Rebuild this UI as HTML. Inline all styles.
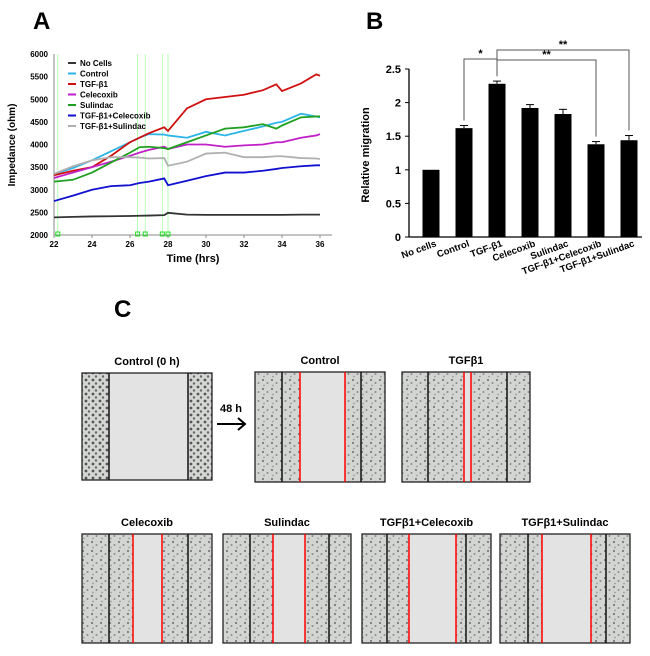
<!DOCTYPE html>
<html><head><meta charset="utf-8">
<style>
body{margin:0;background:#fff;width:650px;height:651px;overflow:hidden;font-family:"Liberation Sans",Arial,sans-serif;}
svg text{font-family:"Liberation Sans",Arial,sans-serif;}
</style></head>
<body>
<svg id="fig" width="650" height="651" viewBox="0 0 650 651" xmlns="http://www.w3.org/2000/svg">
<defs>
<pattern id="cells" width="9" height="9" patternUnits="userSpaceOnUse">
<rect width="9" height="9" fill="#d3d5d3"/>
<circle cx="2" cy="2" r="1.1" fill="#7a7c7a"/>
<circle cx="6.5" cy="5" r="1" fill="#8a8c8a"/>
<circle cx="3" cy="7.5" r="0.9" fill="#9a9c9a"/>
</pattern>
<pattern id="cells0" width="7" height="7" patternUnits="userSpaceOnUse">
<rect width="7" height="7" fill="#d4d6d4"/>
<circle cx="2" cy="2" r="1.4" fill="#555"/>
<circle cx="5" cy="5.5" r="1.2" fill="#666"/>
</pattern>
</defs>
<text x="33" y="29" font-size="24" font-weight="bold">A</text>
<text x="366" y="29" font-size="24" font-weight="bold">B</text>
<text x="114" y="317" font-size="24" font-weight="bold">C</text>
<g id="chartA"></g>
<g id="chartB"></g>
<g id="panelC"></g>
</svg>
<script>
const NS='http://www.w3.org/2000/svg';
function mk(parent,tag,attrs,txt){const e=document.createElementNS(NS,tag);for(const k in attrs)e.setAttribute(k,attrs[k]);if(txt!==undefined)e.textContent=txt;parent.appendChild(e);return e;}

// ---------- Panel A data ----------
const timesA=[22,23,24,25,26,26.5,27,27.8,28,29,30,31,32,33,33.7,34,35,35.8,36];
const seriesNames=["No Cells","Control","TGF-β1","Celecoxib","Sulindac","TGF-β1+Celecoxib","TGF-β1+Sulindac"];
const noCells=[2390,2400,2410,2415,2420,2425,2430,2440,2490,2450,2445,2445,2445,2445,2445,2445,2450,2450,2450];
const controlA=[3350,3480,3650,3850,4050,4150,4230,4220,4200,4150,4280,4200,4300,4400,4480,4500,4680,4620,4600];
const tgfA=[3320,3420,3500,3750,4050,4150,4250,4380,4300,4800,5000,5050,5100,5200,5330,5180,5350,5550,5520];
const celA=[3260,3380,3500,3620,3750,3820,3880,3950,3900,4000,4000,3950,3980,4000,4050,4050,4150,4200,4230];
const sulA=[3180,3220,3380,3600,3820,3940,3950,3920,3900,4050,4200,4350,4380,4450,4350,4420,4600,4620,4620];
const tgfCelA=[2750,2870,3000,3080,3100,3150,3180,3250,3100,3200,3300,3380,3380,3420,3460,3480,3520,3540,3540];
const tgfSulA=[3350,3520,3650,3720,3720,3710,3690,3700,3530,3620,3800,3820,3720,3720,3740,3740,3700,3690,3680];
const colorsA=["#333333","#2bb5e8","#d01010","#c020c8","#20a020","#1010d0","#b0b0b0"];
const ticksXA=[22,24,26,28,30,32,34,36];
const ticksYA=[2000,2500,3000,3500,4000,4500,5000,5500,6000];

const xA=t=>54+(t-22)*(266/14);
const yA=v=>235-(v-2000)*(181/4000);
(function(){
const g=document.getElementById('chartA');
mk(g,'line',{x1:54,y1:54,x2:54,y2:235,stroke:'#888','stroke-width':1});
mk(g,'line',{x1:54,y1:235,x2:332,y2:235,stroke:'#888','stroke-width':1});
ticksYA.forEach(v=>{const t=mk(g,'text',{x:48,y:yA(v)+3,'font-size':8,'font-weight':'bold','text-anchor':'end'},v);});
ticksXA.forEach(v=>{mk(g,'line',{x1:xA(v),y1:235,x2:xA(v),y2:238,stroke:'#888'});const t=mk(g,'text',{x:xA(v),y:247,'font-size':8,'font-weight':'bold','text-anchor':'middle'},v);});
[22.2,26.4,26.8,27.7,28].forEach(v=>{mk(g,'line',{x1:xA(v),y1:54,x2:xA(v),y2:235,stroke:'#9f9','stroke-width':0.7});mk(g,'rect',{x:xA(v)-2,y:232,width:4,height:4,fill:'none',stroke:'#2d2','stroke-width':1});});
const all=[noCells,controlA,tgfA,celA,sulA,tgfCelA,tgfSulA];
all.forEach((s,i)=>{const p=mk(g,'polyline',{points:s.map((v,j)=>xA(timesA[j])+','+yA(v)).join(' '),fill:'none',stroke:colorsA[i],'stroke-width':1.8});});
seriesNames.forEach((n,i)=>{const y=63+i*10.5;mk(g,'line',{x1:68,y1:y,x2:76,y2:y,stroke:colorsA[i],'stroke-width':2});const t=mk(g,'text',{x:80,y:y+3,'font-size':8,'font-weight':'bold'},n);});
const yl=mk(g,'text',{x:0,y:0,'font-size':10,'font-weight':'bold','text-anchor':'middle',transform:'translate(15,145) rotate(-90)'},'Impedance (ohm)');

const xl=mk(g,'text',{x:193,y:262,'font-size':11,'font-weight':'bold','text-anchor':'middle'},'Time (hrs)');

})();

// ---------- Panel B data ----------
const catsB=["No cells","Control","TGF-β1","Celecoxib","Sulindac","TGF-β1+Celecoxib","TGF-β1+Sulindac"];
const valsB=[1,1.62,2.28,1.92,1.83,1.38,1.44];
const errsB=[0,0.04,0.04,0.05,0.07,0.04,0.07];
const ticksB=[0,0.5,1,1.5,2,2.5];
const xB=i=>431+i*33;
const yB=v=>237-v*(168/2.5);
(function(){
const g=document.getElementById('chartB');
mk(g,'line',{x1:409,y1:69,x2:409,y2:237,stroke:'#000','stroke-width':1.3});
mk(g,'line',{x1:409,y1:237,x2:642,y2:237,stroke:'#000','stroke-width':1.3});
ticksB.forEach(v=>{mk(g,'line',{x1:405,y1:yB(v),x2:409,y2:yB(v),stroke:'#000'});const t=mk(g,'text',{x:401,y:yB(v)+4,'font-size':11,'font-weight':'bold','text-anchor':'end'},v);});
valsB.forEach((v,i)=>{const x=xB(i);const r=mk(g,'rect',{x:x-8.5,y:yB(v),width:17,height:237-yB(v),fill:'#000'});
if(errsB[i]>0){mk(g,'line',{x1:x,y1:yB(v+errsB[i]),x2:x,y2:yB(v),stroke:'#000'});mk(g,'line',{x1:x-4,y1:yB(v+errsB[i]),x2:x+4,y2:yB(v+errsB[i]),stroke:'#000'});}
const t=mk(g,'text',{x:0,y:0,'font-size':9.5,'font-weight':'bold','text-anchor':'end',transform:'translate('+(x+6)+',246) rotate(-20)'},catsB[i]);});
function br(i1,i2,top,lbl){const a=xB(i1),b=xB(i2);mk(g,'polyline',{points:a+','+(yB(valsB[i1]+errsB[i1])-5)+' '+a+','+top+' '+b+','+top+' '+b+','+(yB(valsB[i2]+errsB[i2])-5),fill:'none',stroke:'#555','stroke-width':1});const t=mk(g,'text',{x:(a+b)/2,y:top-2,'font-size':11,'font-weight':'bold','text-anchor':'middle'},lbl);}
br(1,2,59,'*');
br(2,5,60,'**');
br(2,6,50,'**');
const yl=mk(g,'text',{x:0,y:0,'font-size':11,'font-weight':'bold','text-anchor':'middle',transform:'translate(369,155) rotate(-90)'},'Relative migration');

})();

// ---------- Panel C ----------
(function(){
const g=document.getElementById('panelC');
const imgs=[
 {t:'Control (0 h)',x:82,y:373,w:130,h:107,b:[109,188],r:[],z:true},
 {t:'Control',x:255,y:372,w:130,h:110,b:[282,361],r:[300,345]},
 {t:'TGFβ1',x:402,y:372,w:128,h:110,b:[428,507],r:[464,471]},
 {t:'Celecoxib',x:82,y:534,w:130,h:109,b:[109,188],r:[133,162]},
 {t:'Sulindac',x:223,y:534,w:128,h:109,b:[250,329],r:[273,305]},
 {t:'TGFβ1+Celecoxib',x:362,y:534,w:129,h:109,b:[387,466],r:[409,456]},
 {t:'TGFβ1+Sulindac',x:500,y:534,w:130,h:109,b:[528,606],r:[542,591]}];
imgs.forEach(im=>{
 const gg=mk(g,'g',{});
 mk(gg,'rect',{x:im.x,y:im.y,width:im.w,height:im.h,fill:im.z?'url(#cells0)':'url(#cells)'});
 const wl=im.r.length?im.r[0]:im.b[0], wr=im.r.length?im.r[1]:im.b[1];
 mk(gg,'rect',{x:wl,y:im.y,width:wr-wl,height:im.h,fill:'#e2e3e2'});
 mk(gg,'rect',{x:im.x,y:im.y,width:im.w,height:im.h,fill:'none',stroke:'#222','stroke-width':1.3});
 im.b.forEach(x=>mk(gg,'line',{x1:x,y1:im.y,x2:x,y2:im.y+im.h,stroke:'#111','stroke-width':1.5}));
 im.r.forEach(x=>mk(gg,'line',{x1:x,y1:im.y,x2:x,y2:im.y+im.h,stroke:'#f00','stroke-width':1.5}));
 const t=mk(g,'text',{x:im.x+im.w/2,y:im.y-8,'font-size':11,'font-weight':'bold','text-anchor':'middle'},im.t);
 
});
const t=mk(g,'text',{x:231,y:412,'font-size':11,'font-weight':'bold','text-anchor':'middle'},'48 h');

const a=mk(g,'path',{d:'M217,424 L244,424 M238,418 L245,424 L238,430',stroke:'#000','stroke-width':2,fill:'none'});

})();
</script>
</body></html>
